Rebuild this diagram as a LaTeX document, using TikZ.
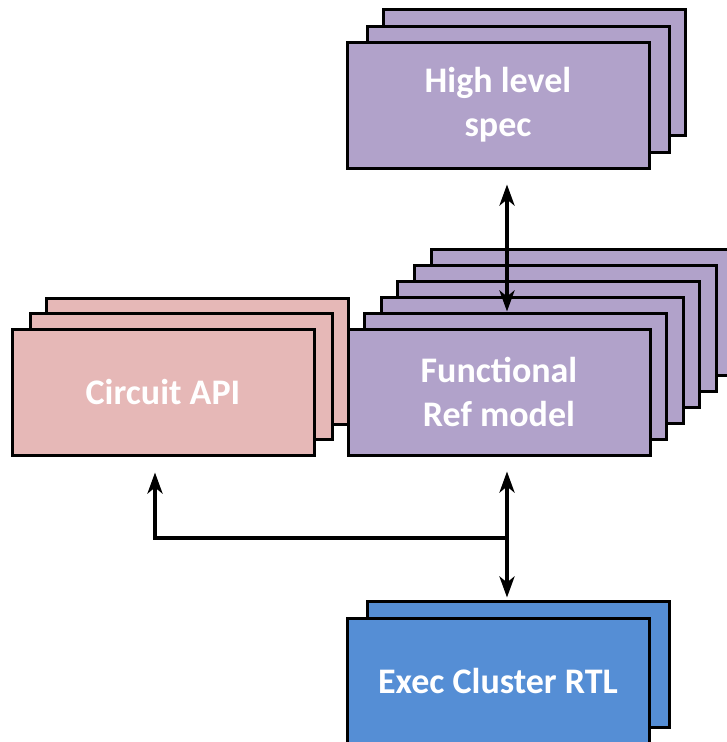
\documentclass[tikz,border=0pt]{standalone}
\usepackage{fontspec}
\setmainfont{Carlito}
\usetikzlibrary{arrows.meta}
\definecolor{specpurple}{RGB}{177,162,202}
\definecolor{apipink}{RGB}{230,184,183}
\definecolor{rtlblue}{RGB}{85,142,213}
\tikzset{
    card/.style={draw=black, line width=3pt, minimum width=302pt, minimum height=126pt, inner sep=0pt},
    tip/.tip={Stealth[length=21pt,width=15pt,inset=6pt]},
    link/.style={line width=4.5pt, tip-tip},
    feed/.style={line width=4.5pt, -tip}
}
\begin{document}
\begin{tikzpicture}[x=1pt, y=-1pt, every node/.style={font=\fontsize{36}{44}\selectfont\bfseries, text=white, align=center}]
    \useasboundingbox (0,0) rectangle (727,742);
    \clip (0,0) rectangle (727,742);
    % high level spec
    \node[card, fill=specpurple] (spec3) at (534,72) {};
    \node[card, fill=specpurple] (spec2) at (518,89) {};
    \node[card, fill=specpurple] (spec)  at (498,105) {High level\\spec};
    % circuit api
    \node[card, fill=apipink] (circ3) at (197,361) {};
    \node[card, fill=apipink] (circ2) at (181,376) {};
    \node[card, fill=apipink] (circ)  at (163,392) {Circuit API};
    % functional ref model
    \foreach \i in {5,...,1}
        \node[card, fill=specpurple] (func\i) at ({499+16.6*\i},{392-16*\i}) {};
    \node[card, fill=specpurple] (func) at (499,392) {Functional\\Ref model};
    % exec cluster rtl
    \node[card, fill=rtlblue] (exec2) at (518,664) {};
    \node[card, fill=rtlblue] (exec)  at (498,681) {Exec Cluster RTL};
    % links
    \coordinate (split)  at (507,538);
    \coordinate (corner) at (155,538);
    \draw[link, shorten <=15pt] (spec.south -| split) -- (func1.north -| split);
    \draw[link, shorten <=15pt, shorten >=2pt] (func.south -| split) -- (exec2.north -| split);
    \draw[feed, shorten >=16pt] (split) -- (corner) -- (circ.south -| corner);
\end{tikzpicture}
\end{document}
